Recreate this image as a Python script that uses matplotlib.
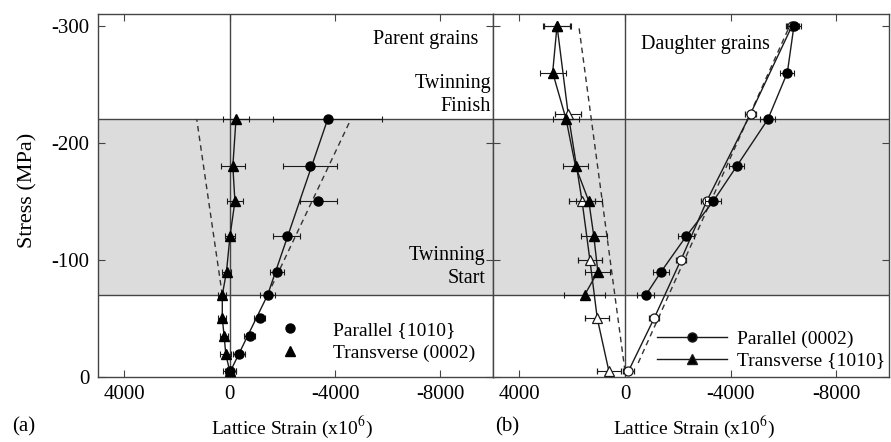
import matplotlib
matplotlib.use("Agg")
import matplotlib.pyplot as plt
from matplotlib.lines import Line2D

plt.rcParams['font.family'] = ['Liberation Serif', 'DejaVu Serif']
plt.rcParams['mathtext.fontset'] = 'stix'
plt.rcParams['axes.unicode_minus'] = False

# ---- (a) parent grains ----
stress_a = [5, 20, 35, 50, 70, 90, 120, 150, 180, 220]
par_a = [-30, -360, -760, -1140, -1440, -1800, -2160, -3370, -3050, -3720]
par_a_err = [200, 220, 200, 200, 280, 250, 510, 700, 1040, 2060]
trans_a = [0, 150, 210, 280, 280, 120, -10, -200, -120, -240]
trans_a_err = [250, 200, 150, 150, 150, 180, 190, 300, 450, 490]

# trend line through the parallel {1010} data
par_a_fit_stress = [5, 70, 220]
par_a_fit_strain = [-30, -1440, -3720]

# elastic predictions during twinning
elastic_a_par_stress = [70, 220]
elastic_a_par_strain = [-1440, -4600]
elastic_a_trans_stress = [70, 220]
elastic_a_trans_strain = [280, 1250]

# ---- (b) daughter grains ----
stress_b = [70, 90, 120, 150, 180, 220, 260, 300]
par_b = [-790, -1370, -2310, -3340, -4230, -5410, -6150, -6400]
par_b_err = [320, 300, 300, 300, 280, 280, 270, 280]
trans_b = [1530, 1030, 1180, 1370, 1875, 2230, 2740, 2575]
trans_b_err = [775, 475, 505, 500, 470, 500, 490, 525]

stress_b_open = [5, 50, 100, 150, 225, 300]
par_b_open = [-130, -1100, -2120, -3090, -4760, -6330]
par_b_open_err = [200, 190, 200, 200, 220, 250]
trans_b_open = [610, 1050, 1330, 1625, 2155, 2575]
trans_b_open_err = [445, 450, 450, 480, 495, 500]

elastic_b_par_stress = [12, 298]
elastic_b_par_strain = [-500, -6200]
elastic_b_trans_stress = [5, 300]
elastic_b_trans_strain = [0, 1750]

twin_start, twin_finish = 70, 220
xticks = [4000, 0, -4000, -8000]
yticks = [0, -100, -200, -300]

W, H = 891, 442
fig = plt.figure(figsize=(W / 100, H / 100), dpi=100)
ax1 = fig.add_axes([98 / W, 1 - 377 / H, (493 - 98) / W, (377 - 14) / H])
ax2 = fig.add_axes([493 / W, 1 - 377 / H, (889 - 493) / W, (377 - 14) / H])

dark = '#1a1a1a'
spine_c = '#444444'
dash = (0, (4, 3))
eb_kw = dict(ecolor=dark, elinewidth=0.8, capsize=2.5, capthick=0.8)


def neg(vals):
    return [-v for v in vals]


for ax in (ax1, ax2):
    ax.axhspan(-twin_start, -twin_finish, color='#dcdcdc', zorder=0, lw=0)
    ax.axhline(-twin_start, color=spine_c, lw=1.0, zorder=1)
    ax.axhline(-twin_finish, color=spine_c, lw=1.0, zorder=1)
    ax.axvline(0, color=spine_c, lw=1.0, zorder=1)
    ax.set_xlim(5000, -10000)
    ax.set_ylim(0, -310)
    ax.set_xticks(xticks)
    ax.set_xticklabels([str(t) for t in xticks])
    ax.set_yticks(yticks)
    ax.tick_params(direction='in', top=True, right=True, length=5,
                   width=0.8, color=spine_c, labelsize=15, pad=6)
    for s in ax.spines.values():
        s.set_color(spine_c)
        s.set_linewidth(1.0)

ax1.set_yticklabels([str(t) for t in yticks])
ax2.set_yticklabels([])

# panel (a)
ax1.errorbar(par_a, neg(stress_a), xerr=par_a_err, fmt='o', ms=6.5,
             mfc='black', mec='black', zorder=4, **eb_kw)
ax1.plot(par_a_fit_strain, neg(par_a_fit_stress), color=dark, lw=1.0, zorder=3)
ax1.errorbar(trans_a, neg(stress_a), xerr=trans_a_err, fmt='^-', ms=6.5,
             color=dark, mfc='black', mec='black', lw=1.0, zorder=4, **eb_kw)
ax1.plot(elastic_a_par_strain, neg(elastic_a_par_stress), color='#333333',
         lw=1.0, linestyle=dash, zorder=2)
ax1.plot(elastic_a_trans_strain, neg(elastic_a_trans_stress), color='#333333',
         lw=1.0, linestyle=dash, zorder=2)

ax1.text(-9450, -288, 'Parent grains', ha='right', va='center', fontsize=14.5)
ax1.text(-9920, -241, 'Twinning\nFinish', ha='right', va='center',
         fontsize=14.5, linespacing=1.25)
ax1.text(-9720, -94, 'Twinning\nStart', ha='right', va='center',
         fontsize=14.5, linespacing=1.25)

leg_a = [Line2D([], [], marker='o', ls='none', color='black', ms=6.5),
         Line2D([], [], marker='^', ls='none', color='black', ms=6.5)]
ax1.legend(leg_a, ['Parallel {1010}', 'Transverse (0002)'], frameon=False,
           loc='upper left', bbox_to_anchor=(0.443, 0.164), fontsize=14,
           handlelength=1.4, handletextpad=1.5, labelspacing=0.25,
           borderpad=0.2, borderaxespad=0)

# panel (b)
ax2.errorbar(par_b_open, neg(stress_b_open), xerr=par_b_open_err, fmt='o-',
             ms=6.5, color=dark, mfc='white', mec=dark, mew=0.9, lw=1.0,
             zorder=3, **eb_kw)
ax2.errorbar(trans_b_open, neg(stress_b_open), xerr=trans_b_open_err,
             fmt='^-', ms=6.5, color=dark, mfc='white', mec=dark, mew=0.9,
             lw=1.0, zorder=3, **eb_kw)
ax2.errorbar(par_b, neg(stress_b), xerr=par_b_err, fmt='o-', ms=6.5,
             color=dark, mfc='black', mec='black', lw=1.0, zorder=4, **eb_kw)
ax2.errorbar(trans_b, neg(stress_b), xerr=trans_b_err, fmt='^-', ms=6.5,
             color=dark, mfc='black', mec='black', lw=1.0, zorder=4, **eb_kw)
ax2.plot(elastic_b_par_strain, neg(elastic_b_par_stress), color='#333333',
         lw=1.0, linestyle=dash, zorder=2)
ax2.plot(elastic_b_trans_strain, neg(elastic_b_trans_stress), color='#333333',
         lw=1.0, linestyle=dash, zorder=2)

ax2.text(-600, -284, 'Daughter grains', ha='left', va='center', fontsize=14.5)

leg_b = [Line2D([], [], marker='o', color=dark, mfc='black', ms=6.5, lw=1.0),
         Line2D([], [], marker='^', color=dark, mfc='black', ms=6.5, lw=1.0)]
ax2.legend(leg_b, ['Parallel (0002)', 'Transverse {1010}'], frameon=False,
           loc='upper left', bbox_to_anchor=(0.405, 0.139), fontsize=14,
           handlelength=3.6, handletextpad=0.5, labelspacing=0.2,
           borderpad=0.2, borderaxespad=0)

# figure labels
fig.text(28 / W, 1 - 190 / H, 'Stress (MPa)', rotation=90, ha='center',
         va='center', fontsize=16)
fig.text(24 / W, 1 - 427 / H, '(a)', ha='center', va='center', fontsize=15)
fig.text(507 / W, 1 - 427 / H, '(b)', ha='center', va='center', fontsize=15)
fig.text(292 / W, 1 - 427 / H, 'Lattice Strain (x10$^6$)', ha='center',
         va='center', fontsize=14)
fig.text(694 / W, 1 - 427 / H, 'Lattice Strain (x10$^6$)', ha='center',
         va='center', fontsize=14)

fig.savefig('out.png', dpi=100)
